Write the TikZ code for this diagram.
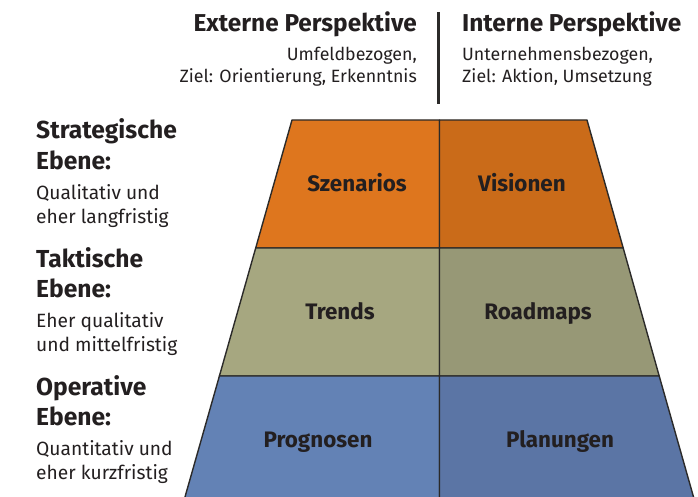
\documentclass[tikz,border=0pt]{standalone}
\usepackage{fontspec}
\setmainfont{Fira Sans}
\definecolor{ink}{HTML}{231F20}
\definecolor{edge}{HTML}{2B2A29}
\definecolor{strL}{HTML}{DE761E}
\definecolor{strR}{HTML}{CA6B19}
\definecolor{takL}{HTML}{A6A780}
\definecolor{takR}{HTML}{979876}
\definecolor{opL}{HTML}{6382B5}
\definecolor{opR}{HTML}{5B75A5}
\begin{document}
\begin{tikzpicture}[x=1pt, y=-1pt,
    every node/.style={inner sep=0pt, text=ink},
    head/.style={font=\fontsize{24.4}{24}\selectfont\bfseries},
    sub/.style={font=\fontsize{17.8}{22}\selectfont},
    level/.style={anchor=base west, font=\fontsize{24.6}{24}\selectfont\bfseries},
    note/.style={anchor=base west, font=\fontsize{19.2}{19}\selectfont},
    cell/.style={draw=edge, line width=1.4pt, line join=round},
    tag/.style={anchor=base, font=\fontsize{22.4}{22}\selectfont\bfseries}
]
\useasboundingbox (0,0) rectangle (698,497);

% trapezoid corners per row boundary
\foreach \n/\y/\l/\r in {0/120/292/587, 1/248/255.7/623.2, 2/376/219.4/659.2, 3/505/182.7/695.8}{
  \coordinate (l\n) at (\l,\y);
  \coordinate (m\n) at (439.5,\y);
  \coordinate (r\n) at (\r,\y);
}

% cells
\filldraw[cell, fill=strL] (l0) -- (m0) -- (m1) -- (l1) -- cycle;
\filldraw[cell, fill=strR] (m0) -- (r0) -- (r1) -- (m1) -- cycle;
\filldraw[cell, fill=takL] (l1) -- (m1) -- (m2) -- (l2) -- cycle;
\filldraw[cell, fill=takR] (m1) -- (r1) -- (r2) -- (m2) -- cycle;
\filldraw[cell, fill=opL]  (l2) -- (m2) -- (m3) -- (l3) -- cycle;
\filldraw[cell, fill=opR]  (m2) -- (r2) -- (r3) -- (m3) -- cycle;

\node[tag] (szen) at (357,191) {Szenarios};
\node[tag] (vis)  at (522,191) {Visionen};
\node[tag] (tre)  at (340,319) {Trends};
\node[tag] (road) at (538,319) {Roadmaps};
\node[tag] (prog) at (318,447) {Prognosen};
\node[tag] (plan) at (560,447) {Planungen};

% perspectives
\coordinate (divtop) at (438.5,12);
\coordinate (divbot) at (438.5,104);
\draw[edge, line width=3pt] (divtop) -- (divbot);

\node[head, anchor=base east] (ext)  at (417,32) {Externe Perspektive};
\node[sub,  anchor=base east] (ext1) at (417,61) {Umfeldbezogen,};
\node[sub,  anchor=base east] (ext2) at (417,83) {Ziel: Orientierung, Erkenntnis};
\node[head, anchor=base west] (int)  at (462,32) {Interne Perspektive};
\node[sub,  anchor=base west] (int1) at (462,61) {Unternehmensbezogen,};
\node[sub,  anchor=base west] (int2) at (462,83) {Ziel: Aktion, Umsetzung};

% levels
\node[level] (s1) at (36,139) {Strategische};
\node[level] (s2) at (36,170) {Ebene:};
\node[note]  (s3) at (36,199) {Qualitativ und};
\node[note]  (s4) at (36,223) {eher langfristig};
\node[level] (t1) at (36,267) {Taktische};
\node[level] (t2) at (36,297) {Ebene:};
\node[note]  (t3) at (36,327) {Eher qualitativ};
\node[note]  (t4) at (36,351) {und mittelfristig};
\node[level] (o1) at (36,395) {Operative};
\node[level] (o2) at (36,425) {Ebene:};
\node[note]  (o3) at (36,455) {Quantitativ und};
\node[note]  (o4) at (36,479) {eher kurzfristig};
\end{tikzpicture}
\end{document}
